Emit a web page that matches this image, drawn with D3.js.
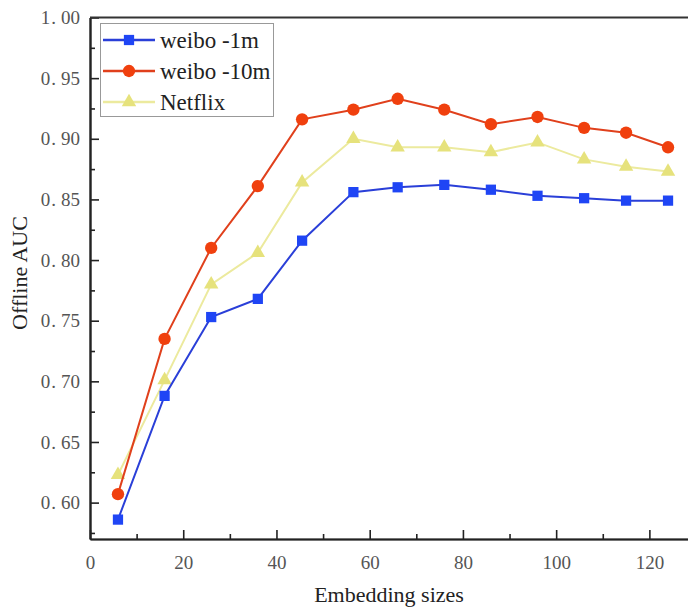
<!DOCTYPE html>
<html lang="en">
<head>
    <meta charset="UTF-8">
    <title>Offline AUC vs embedding sizes</title>
    <script type="text/javascript" src="https://cdn.jsdelivr.net/npm/d3@7"></script>
    <style type="text/css">
        body { margin: 0; background: white; }
        svg { display: block; font-family: "Liberation Serif", "Times New Roman", serif; }
        .tick text { fill: #555; }
    </style>
</head>
<body>
    <script type="text/javascript">
        // values
        var embeddingSizes = [6, 16, 26, 36, 45.5, 56.5, 66, 76, 86, 96, 106, 115, 124];
        var weibo1m  = [0.586, 0.688, 0.753, 0.768, 0.816, 0.856, 0.860, 0.862, 0.858, 0.853, 0.851, 0.849, 0.849];
        var weibo10m = [0.607, 0.735, 0.810, 0.861, 0.916, 0.924, 0.933, 0.924, 0.912, 0.918, 0.909, 0.905, 0.893];
        var netflix  = [0.623, 0.701, 0.780, 0.806, 0.864, 0.900, 0.893, 0.893, 0.889, 0.897, 0.883, 0.877, 0.873];
        var seriesNames = ["weibo -1m", "weibo -10m", "Netflix"];
        var xTickValues = [0, 20, 40, 60, 80, 100, 120];
        var yTickValues = [0.60, 0.65, 0.70, 0.75, 0.80, 0.85, 0.90, 0.95, 1.00];

        var width = 688;
        var height = 607;
        var plotLeft = 90;
        var plotRight = 696;
        var plotTop = 17.5;
        var plotBottom = 539;

        var series = [
            { name: seriesNames[0], values: weibo1m,  line: "#2a3fd8", fill: "#1f45f5", shape: "square" },
            { name: seriesNames[1], values: weibo10m, line: "#e0401c", fill: "#f0400e", shape: "circle" },
            { name: seriesNames[2], values: netflix,  line: "#ecea9e", fill: "#e6e27c", shape: "triangle" }
        ];

        var scaleX = d3.scaleLinear().domain([0, 130]).range([plotLeft, plotRight]);
        var scaleY = d3.scaleLinear().domain([0.57, 1.00]).range([plotBottom, plotTop]);

        var svg = d3.select("body").append("svg")
            .attr("width", width)
            .attr("height", height);

        // minor ticks
        var axisXMinor = d3.axisBottom(scaleX)
            .tickValues([10, 30, 50, 70, 90, 110, 130])
            .tickSizeInner(-5).tickSizeOuter(0).tickFormat("");
        var axisYMinor = d3.axisLeft(scaleY)
            .tickValues([0.575, 0.625, 0.675, 0.725, 0.775, 0.825, 0.875, 0.925, 0.975])
            .tickSizeInner(-5).tickSizeOuter(0).tickFormat("");
        svg.append("g").attr("transform", `translate(0, ${plotBottom})`).call(axisXMinor);
        svg.append("g").attr("transform", `translate(${plotLeft}, 0)`).call(axisYMinor);

        var axisX = d3.axisBottom(scaleX)
            .tickValues(xTickValues)
            .tickSizeInner(-9).tickSizeOuter(0)
            .tickPadding(17)
            .tickFormat(d3.format("d"));
        var axisY = d3.axisLeft(scaleY)
            .tickValues(yTickValues)
            .tickSizeInner(-9).tickSizeOuter(0)
            .tickPadding(10)
            .tickFormat(d3.format(".2f"));

        var gx = svg.append("g")
            .attr("transform", `translate(0, ${plotBottom})`)
            .call(axisX);
        var gy = svg.append("g")
            .attr("transform", `translate(${plotLeft}, 0)`)
            .call(axisY);

        // the original font puts a wide period in the labels
        gy.selectAll(".tick text").each(function() {
            var t = d3.select(this).text();
            var parts = t.split(".");
            var el = d3.select(this).text(parts[0]);
            el.append("tspan").attr("dx", 1).text(".");
            el.append("tspan").attr("dx", 5).text(parts[1]);
        });

        svg.selectAll(".tick text").attr("font-size", 19).attr("font-family", "Liberation Serif");
        svg.selectAll(".domain, .tick line").attr("stroke", "#222").attr("stroke-width", 1.6);
        gx.select(".domain").attr("stroke-width", 2.2);
        gy.select(".domain").attr("stroke-width", 2.2);

        // top frame line
        svg.append("line")
            .attr("x1", plotLeft).attr("x2", width)
            .attr("y1", scaleY(1.0)).attr("y2", scaleY(1.0))
            .attr("stroke", "#333").attr("stroke-width", 2.2);

        var symbolFor = function(shape) {
            if (shape === "square") return d3.symbol().type(d3.symbolSquare).size(105);
            if (shape === "circle") return d3.symbol().type(d3.symbolCircle).size(120);
            return d3.symbol().type(d3.symbolTriangle).size(90);
        };

        var line = d3.line()
            .x(function(d, i) { return scaleX(embeddingSizes[i]); })
            .y(function(d) { return scaleY(d); });

        // yellow drawn first so it sits underneath
        var drawOrder = [series[2], series[1], series[0]];
        drawOrder.forEach(function(s) {
            svg.append("path")
                .attr("d", line(s.values))
                .attr("fill", "none")
                .attr("stroke", s.line)
                .attr("stroke-width", 2);
            svg.append("g").selectAll("path")
                .data(s.values)
                .enter()
                .append("path")
                .attr("d", symbolFor(s.shape))
                .attr("transform", function(d, i) { return `translate(${scaleX(embeddingSizes[i])}, ${scaleY(d)})`; })
                .attr("fill", s.fill);
        });

        // legend
        var legend = svg.append("g");
        legend.append("rect")
            .attr("x", 100.5).attr("y", 23.5)
            .attr("width", 173).attr("height", 93)
            .attr("fill", "white")
            .attr("stroke", "#999").attr("stroke-width", 1);
        series.forEach(function(s, i) {
            var y = 40 + i * 31;
            legend.append("line")
                .attr("x1", 103).attr("x2", 155)
                .attr("y1", y).attr("y2", y)
                .attr("stroke", s.line).attr("stroke-width", 2.5);
            legend.append("path")
                .attr("d", symbolFor(s.shape))
                .attr("transform", `translate(129, ${y})`)
                .attr("fill", s.fill);
            legend.append("text")
                .attr("x", 160).attr("y", y + 8)
                .attr("font-size", 23)
                .attr("fill", "#222")
                .text(s.name);
        });

        // axis titles
        svg.append("text")
            .attr("x", 389).attr("y", 602)
            .attr("text-anchor", "middle")
            .attr("font-size", 22)
            .attr("fill", "#222")
            .text("Embedding sizes");
        svg.append("text")
            .attr("transform", "translate(27, 273) rotate(-90)")
            .attr("text-anchor", "middle")
            .attr("font-size", 22)
            .attr("fill", "#222")
            .text("Offline AUC");
    </script>
</body>
</html>
